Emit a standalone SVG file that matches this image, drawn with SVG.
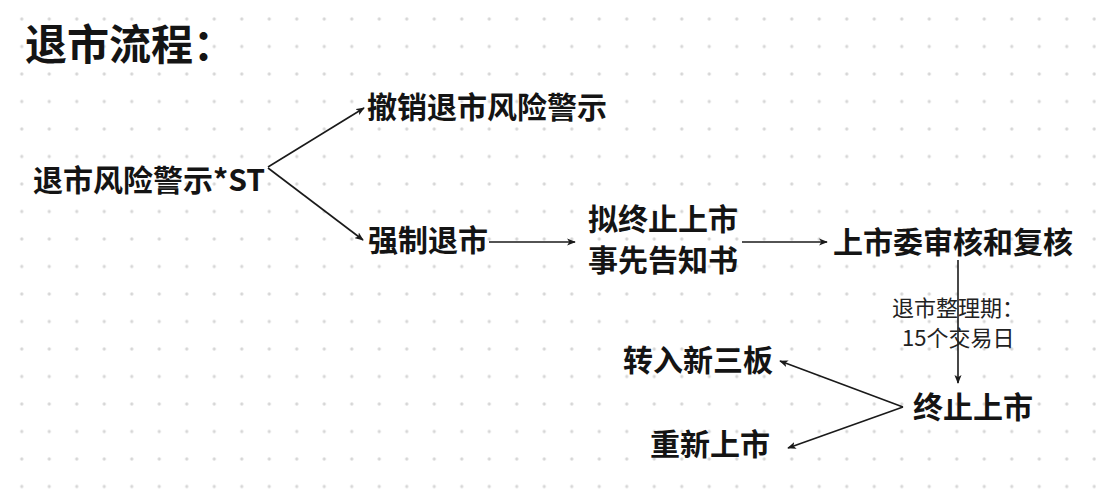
<svg xmlns="http://www.w3.org/2000/svg" width="1096" height="490" viewBox="0 0 1096 490">
  <style>
    .t { font-family: "Noto Sans CJK SC", "Noto Sans", sans-serif; fill: #141414; }
    .b { font-weight: 700; font-size: 30px; }
    .title { font-weight: 700; font-size: 42px; }
    .note { font-weight: 400; font-size: 22px; fill: #222; }
    .edge { stroke: #1a1a1a; stroke-width: 1.6; fill: none; marker-end: url(#arr); }
  </style>
  <defs>
    <pattern id="dots" x="8" y="5.25" width="27.5" height="27.5" patternUnits="userSpaceOnUse">
      <circle cx="13.75" cy="13.75" r="1.6" fill="#d6d6d6"/>
    </pattern>
    <marker id="arr" viewBox="0 0 10 8" refX="9" refY="4" markerWidth="5.5" markerHeight="4.4" orient="auto" markerUnits="strokeWidth">
      <path d="M0,0 L10,4 L0,8 L2.5,4 Z" fill="#1a1a1a"/>
    </marker>
  </defs>
  <rect width="1096" height="490" fill="#ffffff"/>
  <rect width="1096" height="490" fill="url(#dots)"/>

  <g id="title"><text class="t title" x="25" y="60">退市流程：</text></g>

  <g id="connectors">
    <line class="edge" x1="268" y1="167" x2="364" y2="108"/>
    <line class="edge" x1="268" y1="168" x2="363" y2="240"/>
    <line class="edge" x1="489" y1="242" x2="575" y2="242"/>
    <line class="edge" x1="742" y1="242" x2="827" y2="242"/>
    <line class="edge" x1="958" y1="260" x2="958" y2="383"/>
    <line class="edge" x1="903" y1="407" x2="780" y2="361"/>
    <line class="edge" x1="903" y1="407" x2="788" y2="448"/>
  </g>

  <g id="node-st"><text class="t b" x="33" y="191">退市风险警示*ST</text></g>
  <g id="node-revoke"><text class="t b" x="367" y="118">撤销退市风险警示</text></g>
  <g id="node-forced"><text class="t b" x="368" y="251">强制退市</text></g>
  <g id="node-notice">
    <text class="t b" x="588" y="230">拟终止上市</text>
    <text class="t b" x="588" y="271">事先告知书</text>
  </g>
  <g id="node-review"><text class="t b" x="833" y="253">上市委审核和复核</text></g>
  <g id="label-period">
    <text class="t note" x="892" y="316">退市整理期：</text>
    <text class="t note" x="902" y="346">15个交易日</text>
  </g>
  <g id="node-terminate"><text class="t b" x="913" y="418">终止上市</text></g>
  <g id="node-neeq"><text class="t b" x="623" y="371">转入新三板</text></g>
  <g id="node-relist"><text class="t b" x="650" y="455">重新上市</text></g>
</svg>
